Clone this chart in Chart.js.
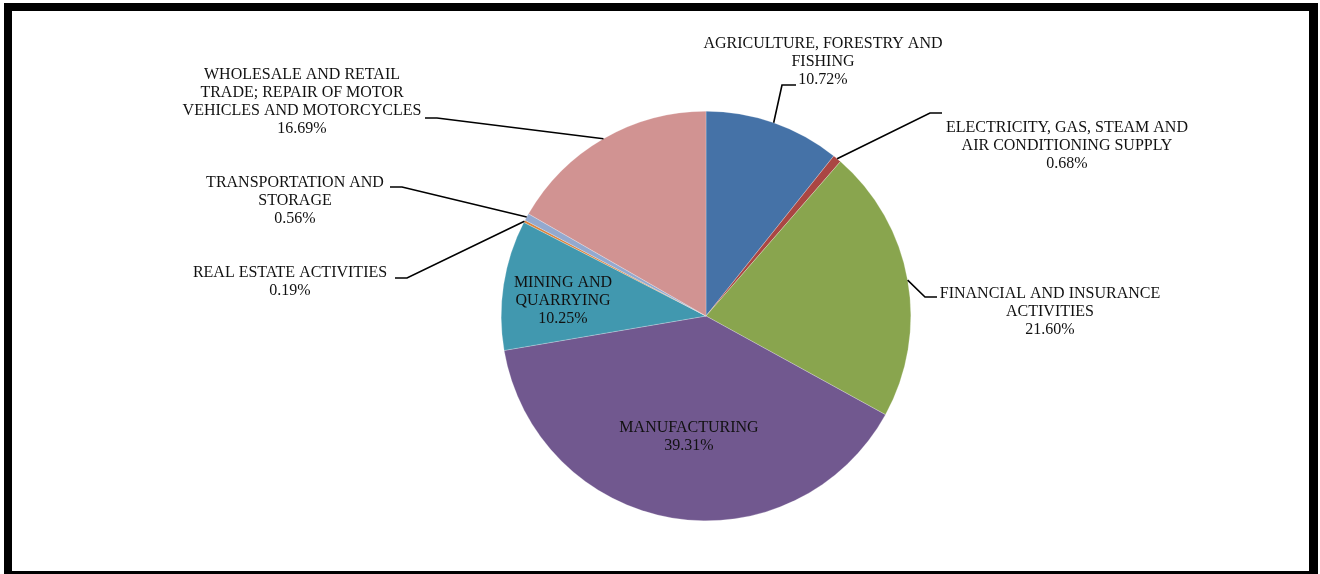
<!DOCTYPE html>
<html>
<head>
<meta charset="utf-8">
<title>Sector shares</title>
<script src="https://cdn.jsdelivr.net/npm/chart.js@4"></script>
<style>
  html, body { margin: 0; padding: 0; background: #fff; }
  #wrap { position: relative; width: 1320px; height: 574px; overflow: hidden; }
  #frame {
    position: absolute; left: 4px; top: 3px;
    width: 1297px; height: 560px;
    border-style: solid; border-color: #000;
    border-width: 8px 9px 8px 8px;
  }
  #pie { position: absolute; left: 0; top: 0; }
</style>
</head>
<body>
<div id="wrap">
  <div id="frame"></div>
  <canvas id="pie" width="1320" height="574"></canvas>
</div>
<script>
// sektorer, medurs från klockan tolv
const sectors = [
  ["AGRICULTURE, FORESTRY AND", "FISHING"],
  ["ELECTRICITY, GAS, STEAM AND", "AIR CONDITIONING SUPPLY"],
  ["FINANCIAL AND INSURANCE", "ACTIVITIES"],
  ["MANUFACTURING"],
  ["MINING AND", "QUARRYING"],
  ["REAL ESTATE ACTIVITIES"],
  ["TRANSPORTATION AND", "STORAGE"],
  ["WHOLESALE AND RETAIL", "TRADE; REPAIR OF MOTOR", "VEHICLES AND MOTORCYCLES"]
];
const shares = [10.72, 0.68, 21.60, 39.31, 10.25, 0.19, 0.56, 16.69];
const sliceColors = ["#4572a7", "#aa4643", "#89a54e", "#71588f", "#4198af", "#db843d", "#93a9cf", "#d19392"];

// var etiketterna hamnar: mitt x, första radens y, knäpunkt och slut på linjen
const labelPos = [
  { x: 823, y: 44, knee: [782, 85], end: [796, 85] },
  { x: 1067, y: 128, knee: [930, 113], end: [942, 113] },
  { x: 1050, y: 294, knee: [925, 297], end: [937, 297] },
  { x: 689, y: 428 },
  { x: 563, y: 283 },
  { x: 290, y: 273, knee: [407, 278], end: [395, 278] },
  { x: 295, y: 183, knee: [402, 187], end: [390, 187] },
  { x: 302, y: 75, knee: [437, 118], end: [425, 118] }
];

const FONT = "16px 'Liberation Serif', 'Times New Roman', serif";
const LINE_H = 18;

// ritar etiketter och hänvisningslinjer
const pieLabels = {
  id: "pieLabels",
  afterDatasetsDraw(chart) {
    const ctx = chart.ctx;
    const arcs = chart.getDatasetMeta(0).data;
    ctx.save();
    ctx.font = FONT;
    ctx.fillStyle = "#111";
    ctx.textAlign = "center";
    ctx.textBaseline = "middle";

    arcs.forEach((arc, i) => {
      const p = labelPos[i];
      const lines = sectors[i].concat([shares[i].toFixed(2) + "%"]);
      lines.forEach((txt, k) => {
        ctx.fillText(txt, p.x, p.y + k * LINE_H);
      });

      if (p.knee) {
        const a = (arc.startAngle + arc.endAngle) / 2;
        const sx = arc.x + Math.cos(a) * arc.outerRadius;
        const sy = arc.y + Math.sin(a) * arc.outerRadius;
        ctx.beginPath();
        ctx.strokeStyle = "#000";
        ctx.lineWidth = 1.6;
        ctx.moveTo(sx, sy);
        ctx.lineTo(p.knee[0], p.knee[1]);
        ctx.lineTo(p.end[0], p.end[1]);
        ctx.stroke();
      }
    });
    ctx.restore();
  }
};

new Chart(document.getElementById("pie"), {
  type: "pie",
  data: {
    labels: sectors.map(s => s.join(" ")),
    datasets: [{
      data: shares,
      backgroundColor: sliceColors,
      borderColor: "rgba(255,255,255,0.6)",
      borderWidth: 0.4
    }]
  },
  options: {
    responsive: false,
    animation: false,
    layout: {
      padding: { top: 111, bottom: 53, left: 300, right: 208 }
    },
    plugins: {
      legend: { display: false },
      tooltip: { enabled: false }
    }
  },
  plugins: [pieLabels]
});
</script>
</body>
</html>
